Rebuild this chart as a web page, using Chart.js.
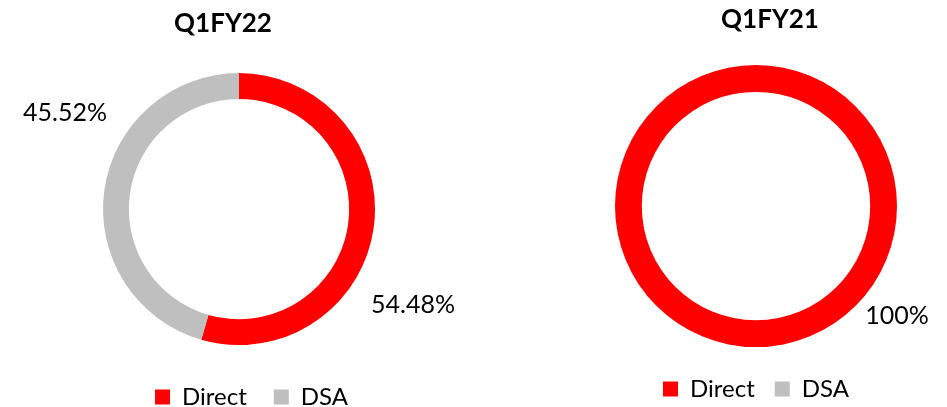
<!DOCTYPE html>
<html>
<head>
<meta charset="utf-8">
<script src="https://cdn.jsdelivr.net/npm/chart.js@4.4.1/dist/chart.umd.min.js"></script>
<style>
  html, body { margin: 0; padding: 0; background: #fff; overflow: hidden; }
  body { width: 947px; height: 407px; position: relative; }
  canvas { position: absolute; top: 0; }
  #chartFY22 { left: 0; }
  #chartFY21 { left: 480px; }
</style>
</head>
<body>
<canvas id="chartFY22" width="470" height="419"></canvas>
<canvas id="chartFY21" width="467" height="411"></canvas>
<script>
// channel mix, % share
const channels = ['Direct', 'DSA'];
const sharesFY22 = [54.48, 45.52];
const sharesFY21 = [100, 0];
const channelColors = ['#FF0000', '#BFBFBF'];

Chart.defaults.font.family = 'Lato';
Chart.defaults.color = '#000';

const fmtPct = v => (Number.isInteger(v) ? v : v.toFixed(2)) + '%';

// percent labels placed around the ring, from the arc geometry
const pctLabels = {
  id: 'pctLabels',
  afterLayout(chart, args, opts) {
    // title sits a bit off the ring centre in the original
    const t = chart.titleBlock;
    if (t && opts.titleShift) {
      t.left += opts.titleShift;
      t.right += opts.titleShift;
    }
  },
  afterDatasetsDraw(chart, args, opts) {
    const ctx = chart.ctx;
    const values = chart.data.datasets[0].data;
    ctx.save();
    ctx.font = '25px Lato';
    ctx.fillStyle = '#000';
    ctx.textAlign = 'center';
    ctx.textBaseline = 'middle';
    chart.getDatasetMeta(0).data.forEach((arc, i) => {
      if (!values[i]) return;
      const p = arc.getProps(['x', 'y', 'startAngle', 'endAngle', 'outerRadius'], true);
      const a = (p.startAngle + p.endAngle) / 2 + opts.shift * Math.PI / 180;
      const d = p.outerRadius * opts.dist;
      ctx.fillText(fmtPct(values[i]), p.x + Math.cos(a) * d, p.y + Math.sin(a) * d);
    });
    ctx.restore();
  }
};

function makeDonut(id, title, values, o) {
  return new Chart(document.getElementById(id), {
    type: 'doughnut',
    data: {
      labels: channels,
      datasets: [{
        data: values,
        backgroundColor: channelColors,
        borderWidth: 0,
        hoverOffset: 0
      }]
    },
    options: {
      responsive: false,
      animation: false,
      cutout: '81%',
      layout: { padding: o.pad },
      plugins: {
        title: {
          display: true,
          text: title,
          font: { size: 26, weight: 'bold' },
          padding: o.titlePad
        },
        legend: {
          position: 'bottom',
          align: o.legendAlign,
          labels: {
            boxWidth: 15,
            boxHeight: 15,
            padding: o.legendPad,
            font: { size: 24 }
          }
        },
        tooltip: { enabled: false },
        pctLabels: o.labels
      }
    },
    plugins: [pctLabels]
  });
}

makeDonut('chartFY22', 'Q1FY22', sharesFY22, {
  pad: { left: 103, right: 95, top: 0, bottom: 0 },
  titlePad: { top: 8, bottom: 21 },
  legendAlign: 'end',
  legendPad: 27,
  labels: { shift: 20.75, dist: 1.46, titleShift: -16 }
});

makeDonut('chartFY21', 'Q1FY21', sharesFY21, {
  pad: { left: 135, right: 50, top: 0, bottom: 0 },
  titlePad: { top: 4, bottom: 20 },
  legendAlign: 'center',
  legendPad: 20,
  labels: { shift: -52, dist: 1.27, titleShift: 14 }
});
</script>
</body>
</html>
